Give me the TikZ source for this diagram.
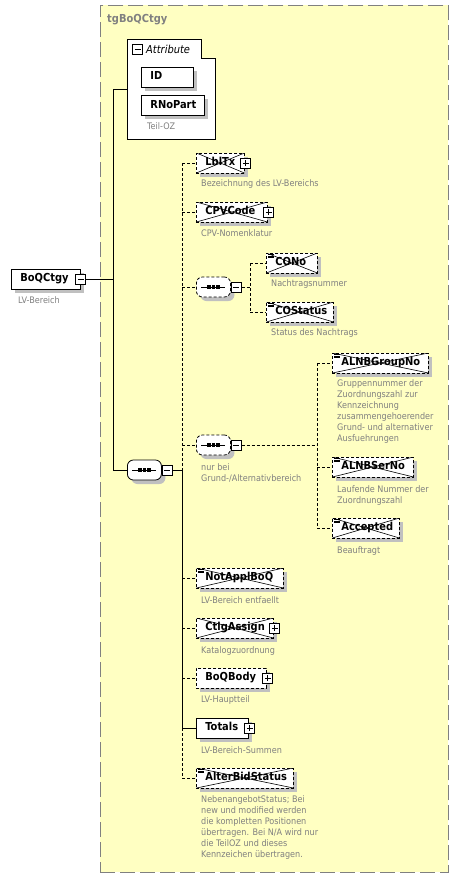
\documentclass[tikz,border=0pt]{standalone}
\usepackage{fontspec}
\setmainfont{DejaVu Sans Condensed}
\usetikzlibrary{shapes.misc,shadows}
\definecolor{grpfill}{RGB}{255,255,194}
\definecolor{grpline}{RGB}{128,128,128}
\definecolor{descgray}{RGB}{128,128,128}
\definecolor{shadowgray}{RGB}{192,192,192}
\newcommand\namefont{\fontsize{11}{12}\selectfont\bfseries}
\newcommand\descfont{\fontsize{9}{11}\selectfont}
\tikzset{
  conn/.style={line width=0.8pt},
  dconn/.style={line width=0.8pt, dash pattern=on 3pt off 2pt},
  shad/.style={drop shadow={shadow xshift=4pt, shadow yshift=-4pt, fill=shadowgray, opacity=1}},
  elem/.style={rectangle, draw, line width=0.8pt, fill=white, anchor=west,
    inner xsep=9pt, inner ysep=0pt, minimum height=20pt, text height=8pt, text depth=2.5pt,
    font=\namefont, align=left, text width=#1, shad},
  opt/.style={dash pattern=on 3pt off 2pt},
  crossed/.style={opt, path picture={
    \draw[solid, black, line width=0.6pt] (path picture bounding box.north west) -- (path picture bounding box.south east)
      (path picture bounding box.south west) -- (path picture bounding box.north east);}},
  crossedsimple/.style={opt, path picture={
    \draw[solid, black, line width=0.6pt] (path picture bounding box.north west) -- (path picture bounding box.south east)
      (path picture bounding box.south west) -- (path picture bounding box.north east);
    \foreach \d in {1.5,3,4.5}
      \draw[solid, black, line width=0.5pt] ([xshift=1.5pt,yshift=-\d pt]path picture bounding box.north west) -- ([xshift=7.5pt,yshift=-\d pt]path picture bounding box.north west);}},
  pm/.style={rectangle, draw, line width=0.8pt, fill=white, minimum size=10pt, inner sep=0pt},
  plusbox/.style={pm, path picture={
    \draw[solid, black, line width=0.8pt] ([xshift=2pt]path picture bounding box.west) -- ([xshift=-2pt]path picture bounding box.east)
      ([yshift=2pt]path picture bounding box.south) -- ([yshift=-2pt]path picture bounding box.north);}},
  minusbox/.style={pm, path picture={
    \draw[solid, black, line width=0.8pt] ([xshift=2pt]path picture bounding box.west) -- ([xshift=-2pt]path picture bounding box.east);}},
  seqbox/.style={rectangle, rounded corners=6pt,
    draw, line width=0.8pt, fill=white, minimum width=34pt, minimum height=20pt, inner sep=0pt,
    anchor=west, shad, path picture={
      \draw[solid, sharp corners, black, line width=0.8pt] ([xshift=-12pt]path picture bounding box.center) -- ([xshift=12pt]path picture bounding box.center);
      \foreach \s in {-4.5,0,4.5}
        \fill[black, sharp corners] ([xshift=\s pt]path picture bounding box.center) +(-1.6pt,-1.6pt) rectangle +(1.6pt,1.6pt);}},
  desc/.style={anchor=north west, inner sep=0pt, align=left, font=\descfont, text=descgray},
}
\begin{document}
\begin{tikzpicture}[x=1pt,y=-1pt]
\useasboundingbox (0,0) rectangle (459,880);
\fill[white] (0,0) rectangle (459,880);
% group
\node[rectangle, minimum width=348pt, minimum height=867pt, inner sep=0pt, anchor=north west,
  draw=grpline, fill=grpfill, line width=0.8pt, dash pattern=on 15pt off 5pt] (grp) at (100,5) {};
\node[anchor=west, inner sep=0pt, font=\fontsize{11}{13}\selectfont\bfseries, text=grpline] (grptitle) at (107,20) {tgBoQCtgy};
% attribute box
\node[rectangle, minimum width=88pt, minimum height=100pt, inner sep=0pt, anchor=north west] (attr) at (127,39) {};
\draw[line width=0.8pt, fill=white] (attr.north west) -- ([xshift=74pt]attr.north west)
  -- ([xshift=74pt,yshift=-19pt]attr.north west) -- ([yshift=-19pt]attr.north east)
  -- (attr.south east) -- (attr.south west) -- cycle;
\node[minusbox] (attrm) at (137.5,49.5) {};
\node[anchor=west, inner sep=0pt, font=\fontsize{11}{13}\selectfont\itshape] (attrlbl) at (146,49) {Attribute};
\node[elem=34pt] (id) at (141,77) {ID};
\node[elem=45pt] (rnopart) at (141,105.5) {RNoPart};
\node[desc] (drnopart) at (147,122) {Teil-OZ};
% root
\node[elem=51pt] (root) at (11,279) {BoQCtgy};
\node[minusbox] (rootm) at (root.east) {};
\node[desc] (droot) at (18,296) {LV-Bereich};
% main sequence
\node[seqbox] (seqA) at (127,470) {};
\node[minusbox, anchor=west] (seqAm) at (seqA.east) {};
% children
\node[elem=30pt, crossed] (lbltx) at (196,163) {LblTx};
\node[plusbox] (lbltxp) at ([xshift=1pt]lbltx.east) {};
\node[desc] (dlbltx) at (201,179) {Bezeichnung des LV-Bereichs};
\node[elem=53pt, crossed] (cpv) at (196,212) {CPVCode};
\node[plusbox] (cpvp) at ([xshift=1pt]cpv.east) {};
\node[desc] (dcpv) at (201,229) {CPV-Nomenklatur};
\node[seqbox, opt] (seqB) at (196,287) {};
\node[minusbox, anchor=west] (seqBm) at (seqB.east) {};
\node[elem=33pt, crossedsimple] (cono) at (266,263) {CONo};
\node[desc] (dcono) at (271,279) {Nachtragsnummer};
\node[elem=49pt, crossedsimple] (costatus) at (266,312) {COStatus};
\node[desc] (dcostatus) at (271,328) {Status des Nachtrags};
\node[seqbox, opt] (seqC) at (196,445) {};
\node[minusbox, anchor=west] (seqCm) at (seqC.east) {};
\node[desc] (dseqC) at (201,463) {nur bei\\Grund-/Alternativbereich};
\node[elem=78pt, crossedsimple] (alnbg) at (332,363) {ALNBGroupNo};
\node[desc] (dalnbg) at (337,379) {Gruppennummer der\\Zuordnungszahl zur\\Kennzeichnung\\zusammengehoerender\\Grund- und alternativer\\Ausfuehrungen};
\node[elem=63pt, crossedsimple] (alnbs) at (332,467) {ALNBSerNo};
\node[desc] (dalnbs) at (337,485) {Laufende Nummer der\\Zuordnungszahl};
\node[elem=49pt, crossedsimple] (accepted) at (332,528) {Accepted};
\node[desc] (daccepted) at (337,546) {Beauftragt};
\node[elem=69pt, crossedsimple] (notappl) at (196,578) {NotApplBoQ};
\node[desc] (dnotappl) at (201,596) {LV-Bereich entfaellt};
\node[elem=59pt, crossed] (ctlg) at (196,628) {CtlgAssign};
\node[plusbox] (ctlgp) at ([xshift=1pt]ctlg.east) {};
\node[desc] (dctlg) at (201,646) {Katalogzuordnung};
\node[elem=52pt, opt] (body) at (196,678) {BoQBody};
\node[plusbox] (bodyp) at ([xshift=1pt]body.east) {};
\node[desc] (dbody) at (201,695) {LV-Hauptteil};
\node[elem=34pt] (totals) at (196,728) {Totals};
\node[plusbox] (totalsp) at ([xshift=1pt]totals.east) {};
\node[desc] (dtotals) at (201,746) {LV-Bereich-Summen};
\node[elem=79pt, crossedsimple] (alter) at (196,778) {AlterBidStatus};
\node[desc] (dalter) at (201,795) {NebenangebotStatus; Bei\\new und modified werden\\die kompletten Positionen\\übertragen. Bei N/A wird nur\\die TeilOZ und dieses\\Kennzeichen übertragen.};
% junction columns
\coordinate (vx1) at (113,0);
\coordinate (vx2) at (182,0);
\coordinate (vx3) at (250,0);
\coordinate (vx4) at (317,0);
% connectors
\draw[conn] (rootm.east) -- (rootm.east -| vx1);
\draw[conn] (attr.west) -- (attr.west -| vx1) -- (seqA.west -| vx1) -- (seqA.west);
\draw[conn] (seqAm.east) -- (seqAm.east -| vx2);
\draw[dconn] (lbltx.west -| vx2) -- (seqAm.east -| vx2);
\draw[conn] (seqAm.east -| vx2) -- (totals.west -| vx2);
\draw[dconn] (totals.west -| vx2) -- (alter.west -| vx2);
\foreach \n in {lbltx,cpv,seqB,seqC,notappl,ctlg,body,alter}
  \draw[dconn] (\n.west -| vx2) -- (\n.west);
\draw[conn] (totals.west -| vx2) -- (totals.west);
\draw[dconn] (seqBm.east) -- (seqBm.east -| vx3);
\draw[dconn] (cono.west -| vx3) -- (costatus.west -| vx3);
\draw[dconn] (cono.west -| vx3) -- (cono.west);
\draw[dconn] (costatus.west -| vx3) -- (costatus.west);
\draw[dconn] (seqCm.east) -- (seqCm.east -| vx4);
\draw[dconn] (alnbg.west -| vx4) -- (accepted.west -| vx4);
\foreach \n in {alnbg,alnbs,accepted}
  \draw[dconn] (\n.west -| vx4) -- (\n.west);
\end{tikzpicture}
\end{document}
